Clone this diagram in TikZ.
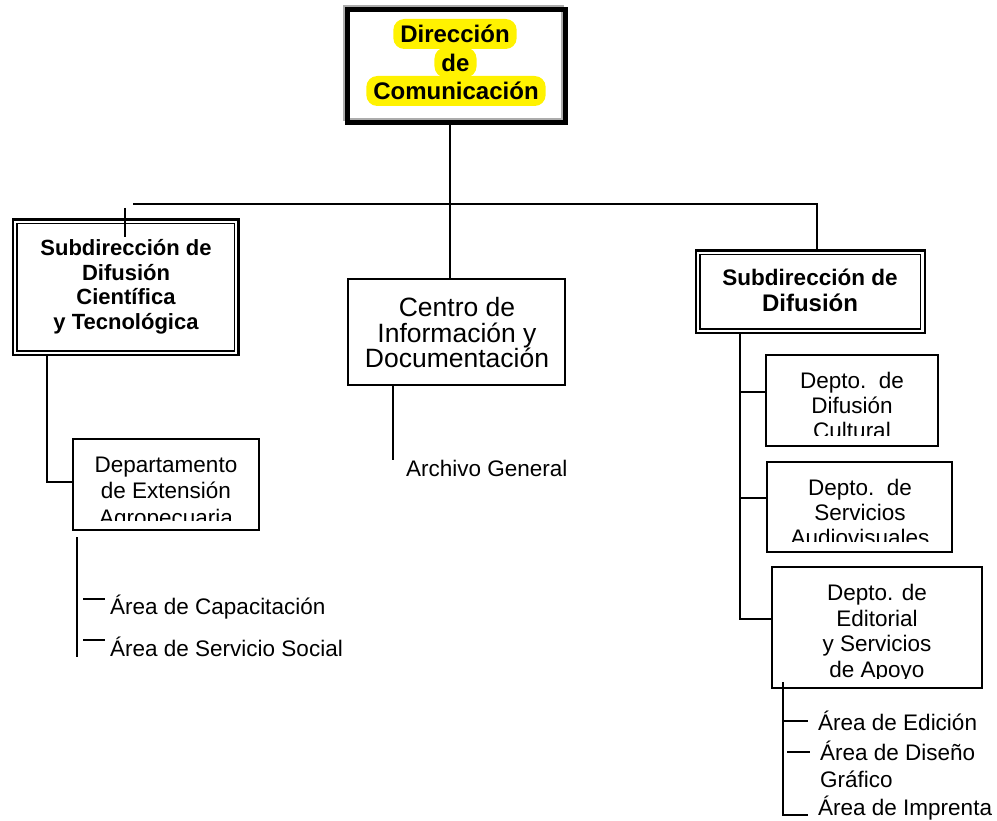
\documentclass[tikz,border=0pt]{standalone}
\usepackage{fontspec}
\setmainfont{Liberation Sans}
\newcommand{\tightls}{\lineskiplimit-20pt\relax}
\begin{document}
\begin{tikzpicture}[x=1pt,y=-1pt,
  box/.style={draw,line width=1.8pt,inner sep=0pt,rectangle},
  dbout/.style={draw,line width=2.4pt,inner sep=0pt,rectangle},
  dbin/.style={draw,line width=1.4pt,inner sep=0pt,rectangle},
  con/.style={line width=1.8pt},
  reg/.style={font=\fontsize{22.5}{25.5}\selectfont\tightls,align=center,inner sep=0pt},
  area/.style={font=\fontsize{22.5}{26}\selectfont,inner sep=0pt,anchor=base west},
  hl/.style={fill=yellow,rounded corners=11pt,inner xsep=7pt,inner ysep=1pt,text height=23pt,text depth=5pt,anchor=base,font=\fontsize{24}{29}\selectfont\bfseries}]
\useasboundingbox (0,0) rectangle (997,821);

% ---------- top box ----------
\draw[gray!65,line width=3pt] (344.5,6.5) rectangle (562,119.5);
\node[draw,line width=5pt,inner sep=0pt,minimum width=217.5pt,minimum height=113pt] (dir) at (456.25,66) {};
\node[hl] (t1) at (455,43) {Dirección};
\node[hl] (t2) at (455.5,71.5) {de};
\node[hl] (t3) at (456,100) {Comunicación};

% ---------- left subdirection ----------
\node[dbout,minimum width=225.3pt,minimum height=135.4pt] (sdc) at (125.65,287.3) {};
\node[dbin,minimum width=217.3pt,minimum height=127.4pt] (sdci) at (125.65,287.3) {};
\node[font=\fontsize{22}{24.5}\selectfont\bfseries\tightls,align=center,inner sep=0pt] (sdct) at (126,286.7)
  {Subdirección de\\Difusión\\Científica\\y Tecnológica};

% ---------- centre box ----------
\node[box,minimum width=217pt,minimum height=106pt] (cid) at (456.5,332) {};
\node[font=\fontsize{26.5}{25.5}\selectfont\tightls,align=center,inner sep=0pt] (cidt) at (457,332.6)
  {Centro de\\Información y\\Documentación};

% ---------- right subdirection ----------
\node[dbout,minimum width=228.7pt,minimum height=82.5pt] (sdd) at (810.35,291.75) {};
\node[dbin,minimum width=220.7pt,minimum height=74.5pt] (sddi) at (810.35,291.75) {};
\node[font=\fontsize{22.5}{25}\selectfont\bfseries,anchor=base,inner sep=0pt] (sddt1) at (810,286) {Subdirección de};
\node[font=\fontsize{24}{25}\selectfont\bfseries,anchor=base,inner sep=0pt] (sddt2) at (810,312) {Difusión};

% ---------- departamento de extension ----------
\begin{scope}
  \clip (74,440) rectangle (258,520);
  \node[reg,font=\fontsize{22.5}{26.7}\selectfont\tightls] (dext) at (166,493.4) {Departamento\\de Extensión\\Agropecuaria};
\end{scope}
\node[box,minimum width=186pt,minimum height=91pt] (dex) at (166,484.5) {};

% ---------- depto difusion cultural ----------
\begin{scope}
  \clip (767,356) rectangle (937,435);
  \node[reg,font=\fontsize{22.5}{25}\selectfont\tightls] (cult) at (852,405.5) {Depto.\ \ de\\Difusión\\Cultural};
\end{scope}
\node[box,minimum width=172pt,minimum height=91pt] (cul) at (852,400.5) {};

% ---------- depto servicios audiovisuales ----------
\begin{scope}
  \clip (768,463) rectangle (951,541);
  \node[reg,font=\fontsize{22.5}{25}\selectfont\tightls] (audt) at (860,512.1) {Depto.\ \ de\\Servicios\\Audiovisuales};
\end{scope}
\node[box,minimum width=185pt,minimum height=90pt] (aud) at (859.5,507) {};

% ---------- depto editorial ----------
\begin{scope}
  \clip (773,568) rectangle (981,678);
  \node[reg] (edt) at (877,633.4) {Depto. de\\Editorial\\y Servicios\\de Apoyo};
\end{scope}
\node[box,minimum width=210pt,minimum height=121pt] (ed) at (877,627.5) {};

% ---------- plain labels ----------
\node[area] (arch) at (406,476) {Archivo General};
\node[area] (cap) at (110,614) {Área de Capacitación};
\node[area] (ssoc) at (110,656) {Área de Servicio Social};
\node[area] (edi) at (818,730) {Área de Edición};
\node[area] (dis) at (820,760) {Área de Diseño};
\node[area] (graf) at (820,787) {Gráfico};
\node[area] (imp) at (818,815) {Área de Imprenta};

% ---------- connector coordinates ----------
\coordinate (tx) at (450,0);
\coordinate (bL) at (133,204);
\coordinate (bR) at (817,204);
\coordinate (tkA) at (125,208);
\coordinate (tkB) at (125,237);
\coordinate (lx) at (47,482);
\coordinate (lyA) at (77,537);
\coordinate (lyB) at (77,657);
\coordinate (c1a) at (83,599);
\coordinate (c2a) at (83,640);
\coordinate (ax) at (393,460);
\coordinate (r1) at (740,392);
\coordinate (r2) at (740,498);
\coordinate (r3) at (740,619);
\coordinate (eA) at (783,682);
\coordinate (eB) at (783,815);
\coordinate (eT1) at (783,721);
\coordinate (eT2) at (787,752);

% ---------- connectors ----------
\draw[con] (dir.south -| tx) -- (cid.north -| tx);
\draw[con] (bL) -- (bR) -- (sdd.north -| bR);
\draw[con] (tkA) -- (tkB);
\draw[con] (sdc.south -| lx) -- (lx) -- (lx -| dex.west);
\draw[con] (lyA) -- (lyB);
\draw[con] (c1a) -- ++(22,0);
\draw[con] (c2a) -- ++(22,0);
\draw[con] (cid.south -| ax) -- (ax);
\draw[con] (sdd.south -| r1) -- (r3) -- (r3 -| ed.west);
\draw[con] (r1) -- (r1 -| cul.west);
\draw[con] (r2) -- (r2 -| aud.west);
\draw[con] (eA) -- (eB) -- ++(25,0);
\draw[con] (eT1) -- ++(25,0);
\draw[con] (eT2) -- ++(23,0);
\end{tikzpicture}
\end{document}
